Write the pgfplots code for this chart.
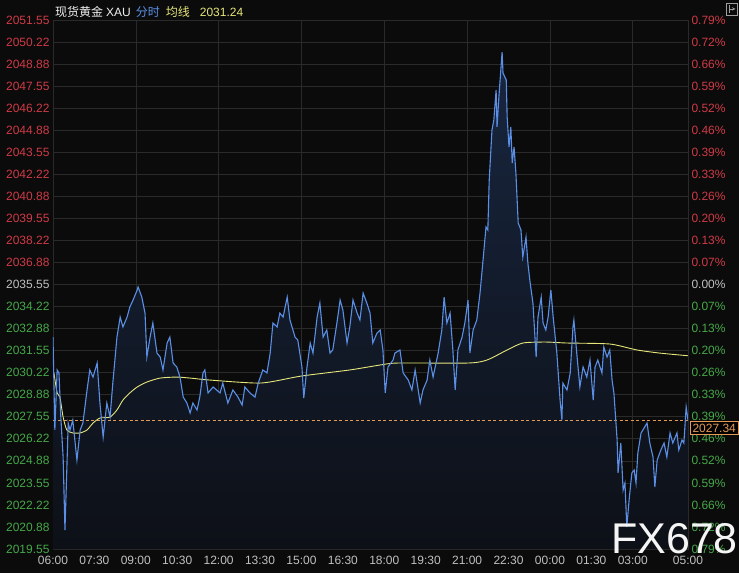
\documentclass[border=0pt]{standalone}
\usepackage{fontspec}
\setmainfont{Liberation Sans}
\newfontfamily\cjk{Noto Sans CJK SC}
\usepackage{pgfplots}
\usepackage{pgfplotstable}
\pgfplotsset{compat=1.18}
\definecolor{bg}{HTML}{0B0B0C}
\definecolor{gridc}{HTML}{2A2A2A}
\definecolor{cred}{HTML}{CF3A45}
\definecolor{cgreen}{HTML}{46A848}
\definecolor{cgray}{HTML}{C0C0C0}
\definecolor{pline}{HTML}{5B8FE6}
\definecolor{avgc}{HTML}{E6E67A}
\definecolor{orangec}{HTML}{E49A55}
\definecolor{fillTop}{HTML}{18263F}
\definecolor{fillBot}{HTML}{0D1017}
\newcommand\R[1]{\textcolor{cred}{#1}}
\newcommand\G[1]{\textcolor{cgreen}{#1}}
\newcommand\N[1]{\textcolor{cgray}{#1}}

\pgfplotstableread{
t p
0 2032.37
4 2026.75
9 2030.38
13 2030.20
17 2027.53
22 2025.11
26 2020.70
30 2024.33
33 2027.17
37 2026.75
43 2027.35
52 2024.93
59 2026.75
65 2027.17
74 2029.17
80 2030.38
87 2029.95
96 2030.80
102 2028.38
109 2026.32
117 2028.38
124 2027.53
130 2029.59
139 2032.37
146 2033.58
152 2032.98
161 2033.58
167 2034.19
174 2034.61
183 2035.22
185 2035.40
193 2034.79
200 2033.82
204 2031.16
211 2032.37
217 2033.22
226 2031.40
233 2031.16
239 2030.38
248 2032.01
254 2032.37
261 2030.80
269 2030.56
276 2029.95
283 2028.74
291 2028.38
298 2027.78
304 2028.38
313 2027.96
319 2028.74
326 2030.20
330 2030.38
337 2028.99
348 2029.35
363 2028.99
369 2029.59
380 2028.38
391 2029.17
402 2028.74
411 2028.26
417 2029.35
428 2028.99
439 2028.74
446 2029.59
456 2030.38
465 2030.20
472 2031.40
478 2033.22
487 2032.98
493 2033.82
500 2033.58
509 2034.79
515 2033.40
526 2032.37
532 2032.19
541 2030.56
545 2028.68
552 2030.56
559 2032.01
565 2031.40
574 2033.58
580 2034.43
587 2032.37
595 2032.80
602 2031.40
608 2031.59
617 2033.22
624 2034.61
630 2034.01
639 2032.01
645 2032.98
652 2034.61
661 2033.82
667 2033.40
674 2035.03
682 2034.43
689 2033.82
695 2032.01
704 2032.61
711 2032.80
717 2031.59
722 2028.99
728 2030.56
739 2030.98
743 2031.40
754 2031.59
761 2030.20
772 2029.77
780 2029.17
787 2030.38
798 2028.38
804 2029.17
813 2029.77
819 2030.98
826 2029.95
837 2031.40
845 2032.80
850 2034.79
856 2033.22
863 2033.82
869 2031.59
874 2029.17
880 2031.59
889 2032.37
895 2033.22
902 2034.61
906 2031.40
913 2032.80
921 2033.40
928 2035.03
934 2036.85
941 2039.03
945 2038.85
948 2041.87
954 2044.90
958 2045.50
963 2047.32
965 2045.08
969 2046.89
976 2049.61
978 2048.34
985 2047.92
987 2045.68
991 2043.87
995 2045.08
998 2042.90
1002 2043.87
1006 2042.29
1011 2039.27
1017 2038.85
1021 2037.21
1028 2038.42
1032 2036.85
1037 2035.64
1043 2034.43
1050 2031.16
1054 2033.58
1061 2034.79
1065 2033.22
1071 2032.80
1076 2033.58
1082 2035.22
1087 2033.58
1095 2031.40
1102 2028.56
1106 2027.35
1108 2029.59
1117 2029.17
1124 2030.20
1130 2032.98
1132 2033.40
1139 2031.16
1145 2029.35
1152 2030.56
1160 2029.95
1167 2030.98
1174 2028.56
1178 2030.56
1184 2030.98
1193 2030.20
1197 2031.77
1204 2031.16
1210 2031.59
1215 2029.77
1219 2028.99
1226 2026.14
1228 2024.15
1234 2025.96
1239 2023.12
1243 2023.54
1247 2020.88
1252 2022.51
1258 2024.15
1263 2024.33
1267 2023.54
1271 2025.36
1278 2026.57
1282 2026.75
1291 2027.17
1297 2025.96
1304 2025.11
1308 2023.30
1313 2024.93
1321 2025.54
1328 2025.96
1334 2025.11
1341 2026.57
1347 2025.96
1356 2026.57
1360 2025.54
1367 2026.14
1371 2025.96
1376 2028.14
1380 2027.34
}\pricedata

\pgfplotstableread{
t a
2 2030.20
9 2028.99
15 2028.74
22 2027.53
30 2026.75
43 2026.57
59 2026.57
74 2026.75
87 2027.17
102 2027.47
124 2027.53
139 2027.96
152 2028.56
167 2028.99
183 2029.35
204 2029.65
233 2029.89
269 2029.95
298 2029.89
341 2029.77
452 2029.59
539 2030.01
645 2030.38
711 2030.68
750 2030.80
902 2030.80
943 2030.98
987 2031.59
1021 2032.01
1071 2032.07
1117 2032.01
1210 2031.95
1269 2031.59
1319 2031.40
1380 2031.24
}\avgdata

\pgfplotsset{
  every tick label/.append style={font=\fontsize{12}{12}\selectfont},
  myaxis/.style={
    at={(0,0)}, anchor=south west,
    scale only axis, width=635pt, height=529pt,
    xmin=0, xmax=1380, ymin=2019.55, ymax=2051.55,
    major tick length=0pt, minor tick length=0pt,
    ytick={2019.55,2020.8833,2022.2167,2023.55,2024.8833,2026.2167,2027.55,2028.8833,2030.2167,2031.55,2032.8833,2034.2167,2035.55,2036.8833,2038.2167,2039.55,2040.8833,2042.2167,2043.55,2044.8833,2046.2167,2047.55,2048.8833,2050.2167,2051.55},
  }
}

\begin{document}
\begin{tikzpicture}
\fill[bg] (-53pt,-24pt) rectangle (686pt,549pt);
\begin{axis}[myaxis,
  axis line style={draw=gridc},
  ymajorgrids=true, xmajorgrids=false, xminorgrids=true,
  grid style={draw=gridc, line width=0.6pt},
  minor x grid style={draw=gridc, line width=0.6pt},
  minor xtick={180,360,540,720,900,1080,1260},
  xtick={0,90,180,270,360,450,540,630,720,810,900,990,1080,1170,1260,1380},
  xticklabels={06:00,07:30,09:00,10:30,12:00,13:30,15:00,16:30,18:00,19:30,21:00,22:30,00:00,01:30,03:00,05:00},
  xticklabel style={text=cgray, yshift=-4pt},
  yticklabels={\G{2019.55},\G{2020.88},\G{2022.22},\G{2023.55},\G{2024.88},\G{2026.22},\G{2027.55},\G{2028.88},\G{2030.22},\G{2031.55},\G{2032.88},\G{2034.22},\N{2035.55},\R{2036.88},\R{2038.22},\R{2039.55},\R{2040.88},\R{2042.22},\R{2043.55},\R{2044.88},\R{2046.22},\R{2047.55},\R{2048.88},\R{2050.22},\R{2051.55}},
]
\addplot[draw=none, top color=fillTop, bottom color=fillBot] table[x=t,y=p]{\pricedata} |- (axis cs:0,2019.55) -- cycle;
\draw[orangec, dash pattern=on 3pt off 2.5pt, line width=0.7pt] (axis cs:0,2027.34) -- (axis cs:1380,2027.34);
\addplot[avgc, line width=0.9pt, smooth, tension=0.4] table[x=t,y=a]{\avgdata};
\addplot[pline, line width=1.1pt] table[x=t,y=p]{\pricedata};
\coordinate (lastp) at (axis cs:1380,2027.34);
\end{axis}
\begin{axis}[myaxis,
  axis x line=none, axis y line*=right,
  axis line style={draw=gridc},
  yticklabels={\G{0.79\%},\G{0.72\%},\G{0.66\%},\G{0.59\%},\G{0.52\%},\G{0.46\%},\G{0.39\%},\G{0.33\%},\G{0.26\%},\G{0.20\%},\G{0.13\%},\G{0.07\%},\N{0.00\%},\R{0.07\%},\R{0.13\%},\R{0.20\%},\R{0.26\%},\R{0.33\%},\R{0.39\%},\R{0.46\%},\R{0.52\%},\R{0.59\%},\R{0.66\%},\R{0.72\%},\R{0.79\%}},
]
\end{axis}
\node[anchor=north west, draw=orangec, fill=black, text=orangec, inner sep=2.2pt, line width=0.6pt, font=\fontsize{12}{12}\selectfont] at ([xshift=2pt,yshift=-1pt]lastp) {2027.34};
\node[anchor=west, inner sep=0, font=\fontsize{12}{12}\selectfont] at (2pt,537pt)
  {\textcolor{white!88!gray}{\cjk 现货黄金}\hspace{3pt}\textcolor{white!88!gray}{XAU}\hspace{5pt}\textcolor{pline}{\cjk 分时}\hspace{6pt}\textcolor{avgc}{\cjk 均线}\hspace{10pt}\textcolor{avgc}{2031.24}};
\node[anchor=base west, inner sep=0, font=\fontsize{43}{43}\selectfont, text=white!92!gray] at (558pt,-4pt) {FX678};
\draw[gray!75, line width=0.6pt] (673pt,534pt) rectangle (684pt,546pt);
\draw[gray!75, line width=0.6pt] (676pt,536pt) -- (676pt,544pt);
\draw[gray!75, line width=0.6pt, -stealth] (677pt,540pt) -- (682.5pt,540pt);
\pgfresetboundingbox
\useasboundingbox (-53pt,-24pt) rectangle (686pt,549pt);
\end{tikzpicture}
\end{document}
